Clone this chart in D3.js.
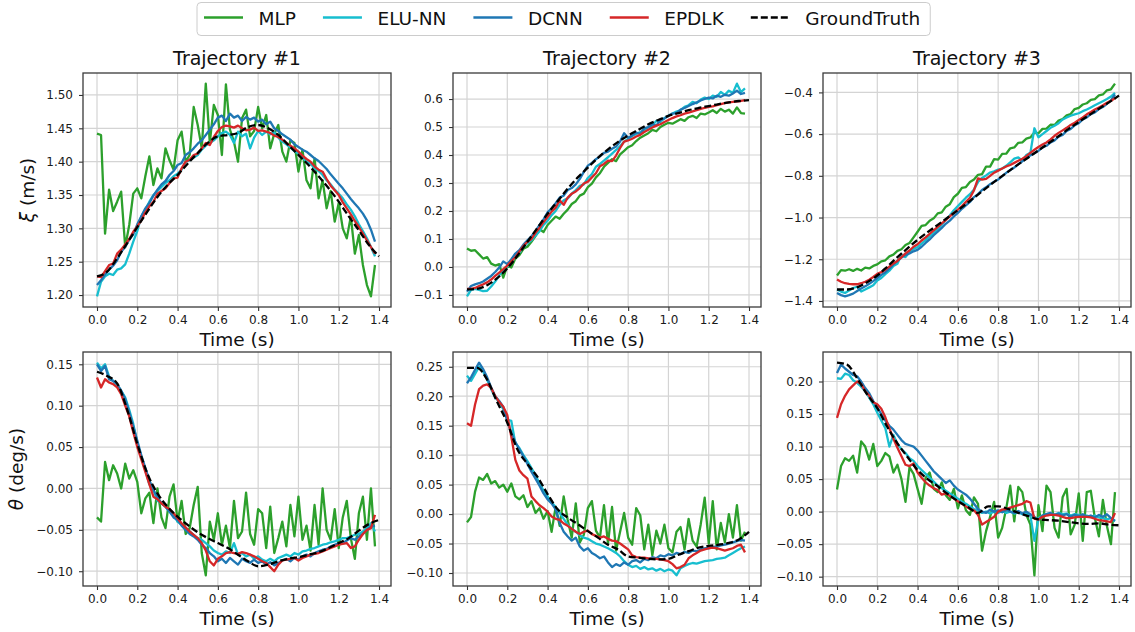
<!DOCTYPE html>
<html>
<head>
<meta charset="utf-8">
<script src="https://cdn.jsdelivr.net/npm/d3@7"></script>
<style>
  body { margin: 0; background: #fff; }
  text { font-family: "DejaVu Sans", sans-serif; }
</style>
</head>
<body>
<div id="chart"></div>
<script>
// sampling of the recorded runs (s)
var tSpan = [0, 1.39];
var tFine = d3.range(70).map(function(i) { return +(i * 0.02).toFixed(2); });
var tCoarse = d3.range(29).map(function(i) { return +(i * 0.05).toFixed(2); });

var seriesNames = ["MLP", "ELU-NN", "DCNN", "EPDLK", "GroundTruth"];
var seriesColors = ["#2ca02c", "#17becf", "#1f77b4", "#d62728", "#000000"];
var titles = ["Trajectory #1", "Trajectory #2", "Trajectory #3"];

var xTicks = [0, 0.2, 0.4, 0.6, 0.8, 1.0, 1.2, 1.4];
var xiTicks1 = [1.20, 1.25, 1.30, 1.35, 1.40, 1.45, 1.50];
var xiTicks2 = [-0.1, 0, 0.1, 0.2, 0.3, 0.4, 0.5, 0.6];
var xiTicks3 = [-1.4, -1.2, -1.0, -0.8, -0.6, -0.4];
var thTicks1 = [-0.10, -0.05, 0, 0.05, 0.10, 0.15];
var thTicks2 = [-0.10, -0.05, 0, 0.05, 0.10, 0.15, 0.20, 0.25];
var thTicks3 = [-0.10, -0.05, 0, 0.05, 0.10, 0.15, 0.20];

// ---- xi (m/s), trajectory 1
var mlpXi1 = [1.442,1.440,1.292,1.358,1.326,1.340,1.355,1.272,1.305,1.352, 1.360,1.345,1.378,1.408,1.365,1.390,1.375,1.420,1.402,1.388, 1.432,1.445,1.400,1.410,1.482,1.455,1.420,1.517,1.428,1.485, 1.470,1.410,1.516,1.448,1.430,1.400,1.465,1.478,1.438,1.446, 1.482,1.450,1.470,1.420,1.442,1.455,1.415,1.400,1.432,1.428, 1.385,1.418,1.372,1.360,1.405,1.345,1.372,1.330,1.356,1.310, 1.338,1.300,1.285,1.318,1.262,1.290,1.245,1.215,1.198,1.245];
var eluXi1 = [1.198,1.220,1.228,1.232,1.230,1.238,1.240,1.246,1.262,1.280, 1.296,1.318,1.328,1.340,1.350,1.356,1.362,1.368,1.372,1.378, 1.382,1.388,1.400,1.402,1.406,1.410,1.418,1.424,1.428,1.432, 1.438,1.443,1.445,1.440,1.428,1.445,1.438,1.442,1.420,1.436, 1.446,1.440,1.445,1.441,1.444,1.436,1.430,1.426,1.421,1.416, 1.412,1.406,1.400,1.397,1.390,1.386,1.380,1.372,1.366,1.358, 1.352,1.345,1.336,1.328,1.318,1.306,1.296,1.285,1.272,1.258];
var dcnnXi1 = [1.215,1.222,1.231,1.238,1.244,1.252,1.265,1.272,1.283,1.291, 1.306,1.318,1.330,1.338,1.349,1.358,1.366,1.371,1.380,1.386, 1.395,1.398,1.410,1.414,1.420,1.427,1.432,1.440,1.448,1.456, 1.466,1.469,1.461,1.472,1.466,1.469,1.461,1.467,1.463,1.466, 1.460,1.463,1.456,1.460,1.450,1.446,1.441,1.437,1.433,1.426, 1.422,1.418,1.415,1.410,1.405,1.401,1.395,1.389,1.381,1.374, 1.367,1.360,1.352,1.344,1.337,1.330,1.322,1.312,1.298,1.280];
var epdlkXi1 = [1.228,1.227,1.236,1.245,1.247,1.262,1.268,1.276,1.284,1.295, 1.303,1.312,1.324,1.333,1.340,1.352,1.356,1.360,1.368,1.375, 1.376,1.390,1.400,1.403,1.410,1.412,1.420,1.428,1.425,1.437, 1.446,1.452,1.454,1.453,1.451,1.454,1.450,1.447,1.448,1.451, 1.446,1.447,1.445,1.443,1.439,1.437,1.433,1.428,1.424,1.420, 1.415,1.409,1.404,1.400,1.393,1.388,1.385,1.374,1.364,1.357, 1.350,1.339,1.330,1.321,1.311,1.302,1.292,1.282,1.272,1.262];
var gtXi1 = [1.228,1.235,1.255,1.278,1.302,1.325,1.347,1.365,1.380,1.397,1.413,1.428,1.438,1.440,1.443,1.452,1.455,1.450,1.440,1.425,1.410,1.395,1.378,1.360,1.340,1.318,1.297,1.275,1.258];

// ---- xi (m/s), trajectory 2
var mlpXi2 = [0.066,0.058,0.060,0.045,0.030,0.035,0.012,0.005,0.010,-0.038, 0.005,-0.002,0.030,0.042,0.065,0.072,0.090,0.110,0.135,0.125, 0.150,0.165,0.180,0.172,0.190,0.205,0.225,0.235,0.255,0.262, 0.285,0.298,0.320,0.335,0.358,0.372,0.385,0.378,0.402,0.415, 0.428,0.435,0.450,0.462,0.470,0.478,0.490,0.485,0.500,0.508, 0.515,0.512,0.520,0.528,0.522,0.535,0.540,0.532,0.548,0.545, 0.552,0.560,0.550,0.565,0.555,0.562,0.548,0.570,0.550,0.548];
var eluXi2 = [-0.105,-0.082,-0.078,-0.082,-0.086,-0.085,-0.070,-0.052,-0.030,-0.012, 0.002,0.018,0.035,0.050,0.072,0.085,0.095,0.112,0.128,0.150, 0.165,0.185,0.200,0.222,0.238,0.245,0.262,0.275,0.290,0.295, 0.318,0.332,0.358,0.368,0.380,0.392,0.405,0.418,0.432,0.448, 0.458,0.468,0.475,0.482,0.490,0.498,0.505,0.522,0.518,0.532, 0.540,0.548,0.555,0.560,0.572,0.578,0.590,0.585,0.598,0.605, 0.600,0.612,0.608,0.625,0.615,0.630,0.622,0.655,0.625,0.638];
var dcnnXi2 = [-0.088,-0.068,-0.062,-0.058,-0.052,-0.042,-0.032,-0.018,-0.002,0.020, 0.010,0.028,0.048,0.060,0.080,0.095,0.110,0.128,0.150,0.170, 0.195,0.210,0.228,0.248,0.255,0.275,0.282,0.295,0.315,0.340, 0.362,0.372,0.385,0.395,0.408,0.412,0.422,0.430,0.448,0.478, 0.462,0.470,0.480,0.475,0.495,0.500,0.510,0.505,0.525,0.530, 0.540,0.548,0.550,0.562,0.568,0.575,0.582,0.588,0.595,0.600, 0.605,0.602,0.612,0.608,0.615,0.612,0.620,0.630,0.618,0.622];
var epdlkXi2 = [-0.078,-0.078,-0.075,-0.068,-0.062,-0.055,-0.045,-0.032,-0.020,-0.008, 0.005,0.020,0.035,0.055,0.075,0.090,0.100,0.122,0.140,0.160, 0.178,0.198,0.212,0.238,0.222,0.248,0.262,0.270,0.282,0.298, 0.305,0.320,0.335,0.360,0.368,0.380,0.378,0.398,0.425,0.448, 0.452,0.458,0.466,0.472,0.482,0.490,0.498,0.505,0.510,0.518, 0.525,0.532,0.538,0.542,0.548,0.551,0.556,0.560,0.565,0.568, 0.572,0.574,0.578,0.582,0.585,0.588,0.590,0.592,0.593,0.596];
var gtXi2 = [-0.080,-0.078,-0.065,-0.040,-0.005,0.040,0.090,0.140,0.190,0.235,0.280,0.320,0.355,0.390,0.420,0.447,0.470,0.490,0.510,0.525,0.540,0.550,0.560,0.568,0.575,0.582,0.588,0.593,0.596];

// ---- xi (m/s), trajectory 3
var mlpXi3 = [-1.278,-1.252,-1.255,-1.248,-1.256,-1.246,-1.254,-1.240,-1.244,-1.232, -1.225,-1.210,-1.205,-1.186,-1.178,-1.160,-1.152,-1.132,-1.122,-1.095, -1.068,-1.040,-1.036,-1.015,-1.004,-0.980,-0.975,-0.948,-0.936,-0.902, -0.886,-0.858,-0.854,-0.830,-0.818,-0.795,-0.792,-0.756,-0.756,-0.720, -0.722,-0.695,-0.694,-0.668,-0.664,-0.642,-0.640,-0.622,-0.616,-0.592, -0.596,-0.575,-0.574,-0.555,-0.556,-0.535,-0.528,-0.510,-0.504,-0.480, -0.474,-0.458,-0.452,-0.436,-0.432,-0.414,-0.410,-0.390,-0.385,-0.358];
var eluXi3 = [-1.345,-1.355,-1.362,-1.350,-1.338,-1.332,-1.355,-1.345,-1.335,-1.325, -1.302,-1.290,-1.272,-1.255,-1.232,-1.222,-1.178,-1.190,-1.165,-1.150, -1.142,-1.125,-1.108,-1.090,-1.075,-1.055,-1.035,-1.012,-0.990,-0.965, -0.945,-0.925,-0.905,-0.888,-0.865,-0.830,-0.810,-0.798,-0.784,-0.778, -0.770,-0.765,-0.752,-0.735,-0.718,-0.712,-0.728,-0.700,-0.690,-0.572, -0.615,-0.600,-0.585,-0.570,-0.560,-0.548,-0.530,-0.520,-0.512,-0.505, -0.500,-0.490,-0.482,-0.472,-0.462,-0.452,-0.442,-0.432,-0.420,-0.402];
var dcnnXi3 = [-1.362,-1.372,-1.378,-1.372,-1.365,-1.352,-1.340,-1.330,-1.318,-1.305, -1.290,-1.275,-1.262,-1.245,-1.225,-1.208,-1.192,-1.180,-1.172,-1.162, -1.155,-1.140,-1.122,-1.105,-1.085,-1.068,-1.050,-1.030,-1.015,-0.995, -0.978,-0.958,-0.942,-0.925,-0.902,-0.888,-0.868,-0.855,-0.840,-0.828, -0.818,-0.802,-0.786,-0.772,-0.760,-0.745,-0.730,-0.716,-0.702,-0.692, -0.680,-0.664,-0.656,-0.640,-0.630,-0.612,-0.604,-0.585,-0.575,-0.558, -0.548,-0.530,-0.520,-0.504,-0.496,-0.480,-0.470,-0.455,-0.438,-0.410];
var epdlkXi3 = [-1.297,-1.308,-1.315,-1.318,-1.320,-1.320,-1.315,-1.308,-1.298,-1.285, -1.270,-1.262,-1.250,-1.235,-1.220,-1.208,-1.190,-1.172,-1.158,-1.140, -1.128,-1.110,-1.095,-1.078,-1.062,-1.045,-1.028,-1.012,-0.995,-0.978, -0.962,-0.945,-0.925,-0.905,-0.870,-0.812,-0.818,-0.815,-0.800,-0.785, -0.775,-0.765,-0.755,-0.748,-0.738,-0.728,-0.718,-0.706,-0.690,-0.675, -0.662,-0.650,-0.640,-0.625,-0.608,-0.594,-0.582,-0.570,-0.556,-0.545, -0.532,-0.520,-0.505,-0.494,-0.482,-0.472,-0.462,-0.450,-0.440,-0.428];
var gtXi3 = [-1.345,-1.345,-1.335,-1.310,-1.278,-1.235,-1.190,-1.148,-1.107,-1.070,-1.035,-1.000,-0.965,-0.928,-0.890,-0.852,-0.815,-0.780,-0.745,-0.712,-0.678,-0.644,-0.610,-0.575,-0.542,-0.510,-0.478,-0.448,-0.415];

// ---- theta (deg/s), trajectory 1
var mlpTh1 = [-0.035,-0.040,0.032,0.010,0.028,0.018,0.000,0.030,0.012,0.022, 0.008,-0.030,-0.012,-0.005,-0.042,0.000,-0.035,-0.048,-0.010,0.005, -0.040,-0.015,-0.055,-0.048,-0.020,0.002,-0.078,-0.105,-0.040,-0.062, -0.030,-0.068,-0.045,-0.072,-0.015,-0.060,-0.052,-0.005,-0.055,-0.068, -0.025,-0.030,-0.072,-0.022,-0.078,-0.060,-0.040,-0.070,-0.020,-0.058, -0.010,-0.062,-0.045,-0.075,-0.020,-0.068,0.000,-0.050,-0.062,-0.025, -0.072,-0.035,-0.015,-0.060,-0.085,-0.030,-0.010,-0.062,0.000,-0.070];
var eluTh1 = [0.152,0.145,0.150,0.135,0.130,0.125,0.118,0.110,0.095,0.078, 0.055,0.038,0.022,0.005,-0.002,-0.015,-0.018,-0.022,-0.028,-0.032, -0.040,-0.044,-0.050,-0.052,-0.056,-0.060,-0.062,-0.066,-0.070,-0.075, -0.078,-0.080,-0.076,-0.078,-0.066,-0.080,-0.078,-0.082,-0.080,-0.085, -0.082,-0.086,-0.088,-0.085,-0.088,-0.084,-0.082,-0.080,-0.082,-0.078, -0.080,-0.076,-0.075,-0.073,-0.072,-0.070,-0.068,-0.067,-0.065,-0.064, -0.062,-0.060,-0.060,-0.058,-0.056,-0.055,-0.052,-0.048,-0.042,-0.052];
var dcnnTh1 = [0.150,0.142,0.148,0.132,0.130,0.126,0.118,0.108,0.092,0.075, 0.058,0.040,0.025,0.010,-0.002,-0.010,-0.018,-0.022,-0.028,-0.035, -0.038,-0.045,-0.050,-0.055,-0.058,-0.062,-0.068,-0.072,-0.078,-0.082, -0.088,-0.085,-0.090,-0.084,-0.088,-0.092,-0.085,-0.088,-0.090,-0.086, -0.090,-0.088,-0.092,-0.089,-0.093,-0.090,-0.087,-0.085,-0.088,-0.084, -0.086,-0.082,-0.080,-0.082,-0.078,-0.076,-0.074,-0.073,-0.070,-0.068, -0.066,-0.066,-0.063,-0.060,-0.062,-0.058,-0.055,-0.050,-0.046,-0.045];
var epdlkTh1 = [0.134,0.122,0.132,0.128,0.126,0.122,0.114,0.100,0.087,0.068, 0.050,0.035,0.020,0.005,-0.010,-0.013,-0.018,-0.022,-0.025,-0.030, -0.036,-0.042,-0.047,-0.052,-0.056,-0.060,-0.066,-0.075,-0.088,-0.093, -0.085,-0.082,-0.078,-0.077,-0.078,-0.079,-0.077,-0.078,-0.080,-0.082, -0.085,-0.088,-0.090,-0.095,-0.100,-0.092,-0.087,-0.086,-0.085,-0.084, -0.087,-0.084,-0.082,-0.080,-0.079,-0.078,-0.076,-0.074,-0.072,-0.070, -0.068,-0.067,-0.066,-0.072,-0.070,-0.062,-0.055,-0.050,-0.048,-0.032];
var gtTh1 = [0.141,0.136,0.127,0.095,0.054,0.018,-0.006,-0.022,-0.034,-0.044,-0.053,-0.060,-0.066,-0.072,-0.080,-0.088,-0.094,-0.092,-0.088,-0.085,-0.083,-0.080,-0.077,-0.072,-0.066,-0.060,-0.051,-0.043,-0.038];

// ---- theta (deg/s), trajectory 2
var mlpTh2 = [-0.014,-0.005,0.038,0.062,0.058,0.068,0.052,0.056,0.045,0.050, 0.038,0.052,0.030,0.025,0.032,0.012,0.022,0.002,0.010,-0.008, 0.005,-0.030,0.012,-0.020,0.030,-0.010,-0.040,0.018,-0.048,-0.035, 0.010,0.022,-0.028,-0.040,0.015,-0.050,0.012,-0.062,-0.030,0.002, -0.040,-0.052,0.010,-0.002,-0.060,-0.018,-0.070,-0.028,-0.050,-0.018, -0.058,-0.065,-0.030,-0.022,-0.060,-0.008,-0.045,-0.055,-0.018,0.028, -0.050,0.022,-0.060,-0.015,-0.048,0.000,-0.040,0.015,-0.045,-0.030];
var eluTh2 = [0.235,0.226,0.238,0.250,0.242,0.228,0.212,0.198,0.190,0.178, 0.160,0.158,0.120,0.112,0.100,0.090,0.078,0.066,0.052,0.040, 0.030,0.020,0.012,0.002,-0.008,-0.018,-0.025,-0.030,-0.036,-0.040, -0.042,-0.046,-0.050,-0.052,-0.055,-0.058,-0.062,-0.066,-0.072,-0.080, -0.086,-0.090,-0.088,-0.093,-0.090,-0.094,-0.092,-0.096,-0.093,-0.097, -0.094,-0.096,-0.104,-0.092,-0.088,-0.085,-0.083,-0.084,-0.082,-0.080, -0.079,-0.078,-0.076,-0.075,-0.074,-0.070,-0.066,-0.062,-0.058,-0.055];
var dcnnTh2 = [0.222,0.232,0.245,0.257,0.246,0.232,0.215,0.200,0.192,0.182, 0.158,0.138,0.122,0.110,0.098,0.085,0.072,0.060,0.048,0.035, 0.025,0.018,0.008,-0.015,-0.030,-0.038,-0.045,-0.040,-0.055,-0.062, -0.058,-0.066,-0.070,-0.075,-0.072,-0.082,-0.090,-0.085,-0.088,-0.082, -0.086,-0.080,-0.078,-0.082,-0.076,-0.078,-0.073,-0.075,-0.070,-0.072, -0.068,-0.070,-0.066,-0.068,-0.064,-0.066,-0.062,-0.063,-0.060,-0.058, -0.058,-0.056,-0.055,-0.053,-0.052,-0.050,-0.048,-0.046,-0.044,-0.045];
var epdlkTh2 = [0.154,0.150,0.186,0.212,0.218,0.220,0.214,0.200,0.190,0.182, 0.168,0.131,0.092,0.074,0.066,0.060,0.030,0.022,0.015,0.010, 0.004,-0.004,-0.008,-0.010,-0.016,-0.020,-0.025,-0.030,-0.034,-0.030, -0.028,-0.034,-0.037,-0.040,-0.038,-0.042,-0.045,-0.046,-0.050,-0.055, -0.060,-0.070,-0.073,-0.074,-0.074,-0.075,-0.076,-0.076,-0.077,-0.078, -0.080,-0.085,-0.092,-0.090,-0.086,-0.075,-0.070,-0.066,-0.062,-0.060, -0.058,-0.057,-0.058,-0.060,-0.062,-0.060,-0.058,-0.054,-0.052,-0.065];
var gtTh2 = [0.248,0.248,0.228,0.190,0.155,0.110,0.085,0.063,0.034,0.008,-0.006,-0.017,-0.029,-0.040,-0.052,-0.060,-0.072,-0.074,-0.076,-0.077,-0.076,-0.069,-0.063,-0.057,-0.054,-0.052,-0.049,-0.043,-0.030];

// ---- theta (deg/s), trajectory 3
var mlpTh3 = [0.034,0.070,0.082,0.078,0.086,0.060,0.108,0.100,0.080,0.104, 0.070,0.078,0.090,0.085,0.060,0.072,0.050,0.015,0.068,0.058, 0.035,0.012,0.052,0.060,0.035,0.030,0.045,0.025,0.018,0.035, 0.005,0.025,0.002,-0.005,0.022,0.012,-0.060,-0.030,-0.008,0.015, -0.040,-0.025,0.005,0.040,-0.015,0.038,0.030,-0.005,-0.020,-0.098, 0.010,-0.030,0.040,0.030,-0.025,-0.040,0.022,0.035,-0.035,-0.020, 0.028,-0.045,0.030,0.032,-0.010,-0.038,0.018,-0.022,-0.050,0.030];
var eluTh3 = [0.205,0.204,0.212,0.210,0.202,0.198,0.192,0.185,0.175,0.165, 0.152,0.140,0.128,0.100,0.118,0.104,0.096,0.090,0.082,0.078, 0.070,0.064,0.058,0.052,0.046,0.040,0.036,0.032,0.028,0.024, 0.020,0.015,0.012,0.008,0.004,0.002,-0.002,0.000,-0.003,0.000, -0.002,0.001,-0.002,0.000,-0.003,-0.001,-0.004,-0.002,-0.006,-0.045, -0.010,-0.006,-0.004,-0.003,-0.005,-0.002,-0.004,-0.003,-0.006,-0.004, -0.005,-0.007,-0.006,-0.008,-0.006,-0.009,-0.010,-0.012,-0.010,-0.015];
var dcnnTh3 = [0.213,0.226,0.220,0.215,0.210,0.208,0.200,0.190,0.182,0.170, 0.160,0.150,0.140,0.132,0.126,0.118,0.110,0.104,0.102,0.100, 0.094,0.086,0.078,0.070,0.062,0.056,0.050,0.044,0.048,0.040, 0.034,0.030,0.026,0.020,0.012,0.004,0.000,-0.002,0.003,0.000, 0.002,-0.001,0.003,0.000,-0.002,0.001,-0.003,0.000,-0.004,-0.008, -0.013,-0.006,-0.004,-0.002,-0.005,-0.003,-0.006,-0.004,-0.008,-0.005, -0.007,-0.004,-0.008,-0.006,-0.009,-0.005,-0.008,-0.004,-0.010,-0.014];
var epdlkTh3 = [0.144,0.165,0.178,0.188,0.194,0.200,0.196,0.185,0.178,0.168, 0.165,0.158,0.145,0.128,0.112,0.098,0.085,0.072,0.070,0.074, 0.060,0.052,0.045,0.040,0.036,0.033,0.026,0.028,0.024,0.020, 0.016,0.012,0.008,0.004,0.002,-0.005,-0.020,-0.016,-0.012,-0.008, 0.000,0.003,0.004,0.006,0.008,0.010,0.012,0.016,0.014,-0.011, -0.012,-0.008,-0.006,-0.005,-0.005,-0.006,-0.008,-0.010,-0.010,-0.009, -0.008,-0.008,-0.008,-0.009,-0.011,-0.013,-0.014,-0.015,-0.016,-0.002];
var gtTh3 = [0.229,0.226,0.205,0.180,0.159,0.130,0.105,0.084,0.064,0.050,0.039,0.027,0.016,0.007,-0.002,0.008,0.008,0.004,-0.002,-0.007,-0.012,-0.013,-0.014,-0.016,-0.018,-0.019,-0.018,-0.020,-0.021];

// panel table built from the arrays above
var panels = [
  {row: 0, col: 0, lines: [mlpXi1, eluXi1, dcnnXi1, epdlkXi1], gt: gtXi1, yTicks: xiTicks1, fmt: ".2f"},
  {row: 0, col: 1, lines: [mlpXi2, eluXi2, dcnnXi2, epdlkXi2], gt: gtXi2, yTicks: xiTicks2, fmt: ".1f"},
  {row: 0, col: 2, lines: [mlpXi3, eluXi3, dcnnXi3, epdlkXi3], gt: gtXi3, yTicks: xiTicks3, fmt: ".1f"},
  {row: 1, col: 0, lines: [mlpTh1, eluTh1, dcnnTh1, epdlkTh1], gt: gtTh1, yTicks: thTicks1, fmt: ".2f"},
  {row: 1, col: 1, lines: [mlpTh2, eluTh2, dcnnTh2, epdlkTh2], gt: gtTh2, yTicks: thTicks2, fmt: ".2f"},
  {row: 1, col: 2, lines: [mlpTh3, eluTh3, dcnnTh3, epdlkTh3], gt: gtTh3, yTicks: thTicks3, fmt: ".2f"}
];

// layout
var width = 1135, height = 632;
var colX = [83, 453, 823], rowY = [73, 352];
var plotW = 308, plotH = 234;
var yLabelX = [34, 23];

var svg = d3.select("#chart").append("svg")
    .attr("width", width)
    .attr("height", height);

var xPad = (tSpan[1] - tSpan[0]) * 0.05;

panels.forEach(function(p) {
  var g = svg.append("g")
      .attr("transform", "translate(" + colX[p.col] + "," + rowY[p.row] + ")");

  var x = d3.scaleLinear()
      .domain([tSpan[0] - xPad, tSpan[1] + xPad])
      .range([0, plotW]);

  // matplotlib style 5% margin around all data
  var ext = d3.extent(d3.merge(p.lines.concat([p.gt])));
  var m = (ext[1] - ext[0]) * 0.05;
  var y = d3.scaleLinear()
      .domain([ext[0] - m, ext[1] + m])
      .range([plotH, 0]);

  // grid
  g.append("g").selectAll("line").data(xTicks).enter().append("line")
      .attr("x1", function(d) { return x(d); }).attr("x2", function(d) { return x(d); })
      .attr("y1", 0).attr("y2", plotH)
      .attr("stroke", "#d4d4d4").attr("stroke-width", 1.2);
  g.append("g").selectAll("line").data(p.yTicks).enter().append("line")
      .attr("y1", function(d) { return y(d); }).attr("y2", function(d) { return y(d); })
      .attr("x1", 0).attr("x2", plotW)
      .attr("stroke", "#d4d4d4").attr("stroke-width", 1.2);

  // series
  var lineFine = d3.line()
      .x(function(d, i) { return x(tFine[i]); })
      .y(function(d) { return y(d); });
  p.lines.forEach(function(vals, k) {
    g.append("path")
        .datum(vals)
        .attr("d", lineFine)
        .attr("fill", "none")
        .attr("stroke", seriesColors[k])
        .attr("stroke-width", 2.3)
        .attr("stroke-linejoin", "round");
  });

  var lineGt = d3.line()
      .x(function(d, i) { return x(tCoarse[i]); })
      .y(function(d) { return y(d); })
      .curve(d3.curveMonotoneX);
  g.append("path")
      .datum(p.gt)
      .attr("d", lineGt)
      .attr("fill", "none")
      .attr("stroke", seriesColors[4])
      .attr("stroke-width", 2.3)
      .attr("stroke-dasharray", "7,3");

  // axes
  var xAxis = g.append("g")
      .attr("transform", "translate(0," + plotH + ")")
      .call(d3.axisBottom(x).tickValues(xTicks).tickFormat(d3.format(".1f"))
        .tickSize(4).tickPadding(4));
  var yAxis = g.append("g")
      .call(d3.axisLeft(y).tickValues(p.yTicks).tickFormat(d3.format(p.fmt))
        .tickSize(4).tickPadding(6));
  [xAxis, yAxis].forEach(function(a) {
    a.select(".domain").remove();
    a.selectAll(".tick line").attr("stroke", "#333").attr("stroke-width", 1.1);
    a.selectAll(".tick text").attr("fill", "#1a1a1a")
        .style("font-size", "12px").style("font-family", "'DejaVu Sans', sans-serif");
  });

  // frame
  g.append("rect")
      .attr("width", plotW).attr("height", plotH)
      .attr("fill", "none").attr("stroke", "#3a3a3a").attr("stroke-width", 1.3);

  // x label
  g.append("text")
      .attr("x", plotW / 2).attr("y", plotH + 39)
      .attr("text-anchor", "middle")
      .style("font-size", "18.5px").attr("fill", "#111")
      .text("Time (s)");

  if (p.row === 0) {
    g.append("text")
        .attr("x", plotW / 2).attr("y", -8)
        .attr("text-anchor", "middle")
        .style("font-size", "19px").attr("fill", "#111")
        .text(titles[p.col]);
  }

  if (p.col === 0) {
    var lab = svg.append("text")
        .attr("transform", "translate(" + yLabelX[p.row] + "," + (rowY[p.row] + plotH / 2) + ") rotate(-90)")
        .attr("text-anchor", "middle")
        .style("font-size", "18.5px").attr("fill", "#111");
    lab.append("tspan").style("font-style", "italic").text(p.row === 0 ? "ξ" : "θ");
    lab.append("tspan").text(p.row === 0 ? " (m/s)" : " (deg/s)");
  }
});

// legend along the top
var legend = svg.append("g");
var legBox = legend.append("rect")
    .attr("y", 2.5).attr("height", 33).attr("rx", 4)
    .attr("fill", "#fff").attr("stroke", "#cccccc").attr("stroke-width", 1);
var lx = 204;
seriesNames.forEach(function(name, k) {
  legend.append("line")
      .attr("x1", lx).attr("x2", lx + 39)
      .attr("y1", 17.5).attr("y2", 17.5)
      .attr("stroke", seriesColors[k])
      .attr("stroke-width", 2.3)
      .attr("stroke-dasharray", k === 4 ? "7,3" : null);
  var t = legend.append("text")
      .attr("x", lx + 39 + 15.5).attr("y", 25)
      .style("font-size", "18.5px").attr("fill", "#111")
      .text(name);
  lx = lx + 39 + 15.5 + t.node().getComputedTextLength() + 27;
});
legBox.attr("x", 197).attr("width", lx - 27 + 10 - 197);
</script>
</body>
</html>
